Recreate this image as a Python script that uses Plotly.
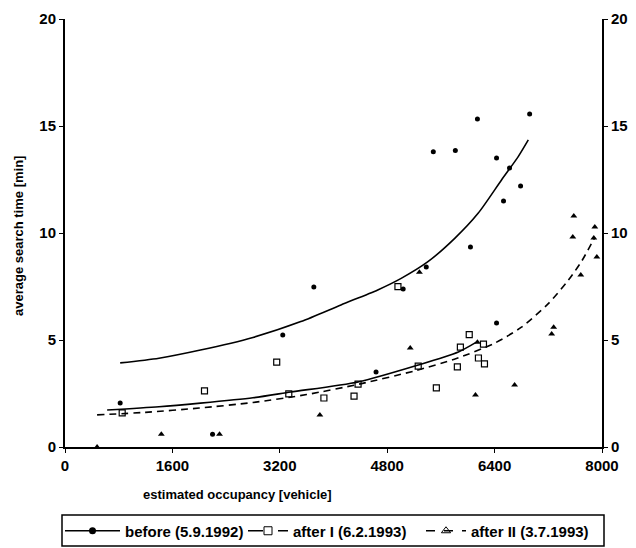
import plotly.graph_objects as go

# ---- data ----
before_x = [822, 2198, 3244, 3707, 4634, 5038, 5382, 5487, 5815, 6040, 6144, 6429, 6429, 6533, 6622, 6787, 6922]
before_y = [2.06, 0.6, 5.23, 7.48, 3.5, 7.38, 8.41, 13.8, 13.85, 9.35, 15.33, 5.8, 13.5, 11.5, 13.04, 12.2, 15.56]

after1_x = [852, 2078, 3154, 3334, 3857, 4306, 4366, 4960, 5262, 5532, 5845, 5890, 6022, 6159, 6234, 6249]
after1_y = [1.59, 2.62, 3.97, 2.48, 2.29, 2.38, 2.94, 7.49, 3.78, 2.76, 3.74, 4.67, 5.25, 4.16, 4.81, 3.88]

after2_x = [478, 1435, 2302, 3797, 5143, 5280, 6115, 6144, 6698, 7250, 7280, 7565, 7580, 7684, 7878, 7893, 7923]
after2_y = [0.0, 0.6, 0.6, 1.5, 4.63, 8.17, 2.43, 4.9, 2.9, 5.28, 5.6, 9.81, 10.8, 8.04, 9.77, 10.28, 8.88]

# fitted curves
fit_before_x = [822, 1400, 2018, 2800, 3513, 4111, 4659, 5008, 5407, 5806, 6154, 6503, 6752, 6902]
fit_before_y = [3.93, 4.15, 4.53, 5.12, 5.86, 6.64, 7.34, 7.88, 8.66, 9.75, 10.92, 12.48, 13.57, 14.35]

fit_after1_x = [628, 1400, 2018, 2800, 3364, 4366, 5262, 5860, 6130]
fit_after1_y = [1.73, 1.88, 2.05, 2.3, 2.57, 3.04, 3.83, 4.44, 4.9]

fit_after2_x = [478, 1200, 2000, 2800, 3600, 4400, 5200, 5800, 6400, 6800, 7200, 7500, 7700, 7893]
fit_after2_y = [1.5, 1.62, 1.82, 2.08, 2.45, 2.95, 3.55, 4.1, 4.85, 5.6, 6.7, 7.8, 8.7, 9.8]

names = ["before (5.9.1992)", "after I (6.2.1993)", "after II (3.7.1993)"]
x_ticks = [0, 1600, 3200, 4800, 6400, 8000]
y_ticks = [0, 5, 10, 15, 20]

FONT = "Liberation Sans, Arial, sans-serif"
BLK = "#000000"

# plot-area geometry (px) used to place paper-referenced items
L, R, T, B, W, H = 65, 602, 19, 447, 636, 548
def px_x(p):
    return (p - L) / (R - L)
def px_y(p):
    return (B - p) / (B - T)

fig = go.Figure()

# curves
fig.add_trace(go.Scatter(x=fit_before_x, y=fit_before_y, mode="lines", line=dict(color=BLK, width=1.6, shape="spline", smoothing=0.7), showlegend=False))
fig.add_trace(go.Scatter(x=fit_after1_x, y=fit_after1_y, mode="lines", line=dict(color=BLK, width=1.6, shape="spline", smoothing=0.7), showlegend=False))
fig.add_trace(go.Scatter(x=fit_after2_x, y=fit_after2_y, mode="lines", line=dict(color=BLK, width=1.6, dash="7px,5px", shape="spline", smoothing=0.7), showlegend=False))

# markers
fig.add_trace(go.Scatter(x=before_x, y=before_y, mode="markers", marker=dict(symbol="circle", size=5, color=BLK), showlegend=False))
fig.add_trace(go.Scatter(x=after1_x, y=after1_y, mode="markers", marker=dict(symbol="square-open", size=6, color=BLK, line=dict(width=1.2)), showlegend=False))
fig.add_trace(go.Scatter(x=after2_x, y=after2_y, mode="markers", marker=dict(symbol="triangle-up", size=6, color=BLK), showlegend=False))

# legend entries (three separate legends inside one drawn box)
fig.add_trace(go.Scatter(x=[None], y=[None], mode="lines+markers", name=names[0], legend="legend",
                         line=dict(color=BLK, width=1.6), marker=dict(symbol="circle", size=7, color=BLK)))
fig.add_trace(go.Scatter(x=[None], y=[None], mode="lines+markers", name=names[1], legend="legend2",
                         line=dict(color=BLK, width=1.4, dash="longdash"), marker=dict(symbol="square-open", size=8, color=BLK)))
fig.add_trace(go.Scatter(x=[None], y=[None], mode="lines+markers", name=names[2], legend="legend3",
                         line=dict(color=BLK, width=1.4, dash="dash"), marker=dict(symbol="triangle-up-open", size=8, color=BLK)))

# secondary axis holder
fig.add_trace(go.Scatter(x=[None], y=[None], yaxis="y2", showlegend=False))

tick_font = dict(family=FONT, size=15, color=BLK, weight="bold")
title_font = dict(family=FONT, size=13, color=BLK, weight="bold")
leg_font = dict(family=FONT, size=15, color=BLK, weight="bold")

def leg(xpx, iw):
    return dict(orientation="h", x=px_x(xpx), y=px_y(531), xanchor="left", yanchor="middle",
                borderwidth=0, bgcolor="rgba(0,0,0,0)", font=leg_font, itemwidth=iw)

fig.update_layout(
    width=W, height=H,
    margin=dict(l=L, r=W - R, t=T, b=H - B, autoexpand=False),
    paper_bgcolor="white", plot_bgcolor="white",
    font=dict(family=FONT, size=13, color=BLK),
    xaxis=dict(range=[0, 8000], tickvals=x_ticks, ticktext=[str(v) for v in x_ticks],
               showgrid=False, zeroline=False, showline=True, linecolor=BLK, linewidth=2,
               ticks="outside", ticklen=4, tickcolor=BLK, tickfont=tick_font, automargin=False),
    yaxis=dict(range=[0, 20], tickvals=y_ticks, showgrid=False, zeroline=False,
               showline=True, linecolor=BLK, linewidth=2, ticks="outside", ticklen=4,
               tickcolor=BLK, tickfont=tick_font, automargin=False),
    yaxis2=dict(range=[0, 20], tickvals=y_ticks, overlaying="y", side="right",
                showgrid=False, zeroline=False, showline=True, linecolor=BLK, linewidth=2,
                ticks="outside", ticklen=4, tickcolor=BLK, tickfont=tick_font, automargin=False),
    legend=leg(60, 55),
    legend2=leg(243, 40),
    legend3=leg(421, 40),
    showlegend=True,
)

# legend frame
fig.add_shape(type="rect", xref="paper", yref="paper",
              x0=px_x(62), x1=px_x(604), y0=px_y(546), y1=px_y(515),
              line=dict(color=BLK, width=1.5), fillcolor="rgba(0,0,0,0)", layer="above")

fig.add_annotation(text="estimated occupancy [vehicle]", xref="paper", yref="paper",
                   x=px_x(237), y=px_y(485), xanchor="center", yanchor="top",
                   showarrow=False, font=title_font)
fig.add_annotation(text="average search time [min]", xref="paper", yref="paper",
                   x=px_x(18), y=px_y(236), xanchor="center", yanchor="middle",
                   textangle=-90, showarrow=False, font=title_font)

fig.write_html("out.html", config={"displayModeBar": False},
               post_script="document.body.style.margin='0';document.body.style.overflow='hidden';")
